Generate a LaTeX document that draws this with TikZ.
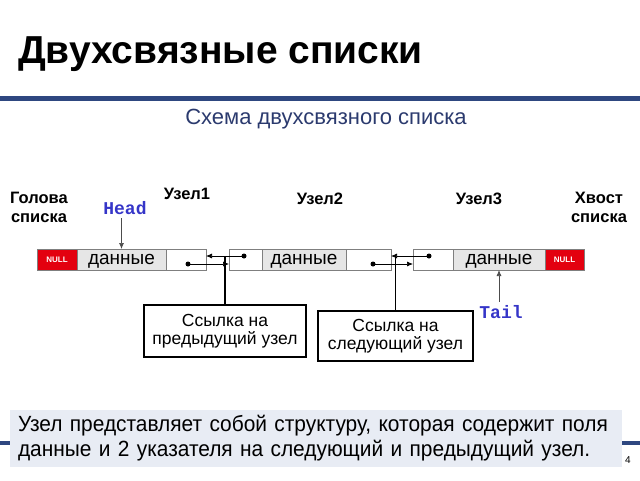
\documentclass[tikz,border=0pt]{standalone}
\usepackage{fontspec}
\setmainfont{Liberation Sans}
\setmonofont{Liberation Mono}
\newfontfamily\narrowfont[FakeStretch=0.95]{Liberation Sans}
\usetikzlibrary{arrows.meta,positioning}

\definecolor{titleblue}{HTML}{2E4780}
\definecolor{subblue}{HTML}{2B3A6E}
\definecolor{notefill}{HTML}{E8ECF4}
\definecolor{nullred}{HTML}{E3000F}
\definecolor{headblue}{HTML}{3535C8}
\definecolor{datagray}{HTML}{E6E6E6}
\definecolor{cellline}{HTML}{7F7F7F}

\newcommand{\fsz}[1]{\fontsize{#1}{#1}\selectfont}

\tikzset{
  cell/.style={draw=cellline, line width=0.8pt, minimum height=21pt, inner sep=0pt, outer sep=0pt, anchor=west},
  datacell/.style={cell, fill=datagray, font=\fsz{19}, text height=10pt, text depth=0pt},
  ptrcell/.style={cell, fill=white},
  nullcell/.style={cell, fill=nullred, text=white, font=\bfseries\fsz{8}},
  dot/.style={circle, fill=black, inner sep=0pt, minimum size=5pt},
  link/.style={-{Latex[length=6pt,width=5pt]}, line width=0.7pt},
  marker/.style={font=\ttfamily\bfseries\fsz{18}, text=headblue},
  callout/.style={draw, line width=1.4pt, fill=white, align=center, font=\fsz{17.5}, inner sep=0pt},
  toplabel/.style={font=\bfseries\fontsize{16.5}{19}\selectfont, align=center, anchor=north}
}

\begin{document}
\begin{tikzpicture}[x=1pt,y=-1pt]
    \useasboundingbox (0,0) rectangle (640,480);
    % title
    \node[anchor=base west, font=\bfseries\fsz{39}, inner sep=0pt] (title) at (18,63) {Двухсвязные списки};
    \draw[titleblue, line width=5pt] (0,98) -- (640,98);
    \node[text=subblue, font=\fsz{22}] (sub) at (326,119) {Схема двухсвязного списка};

    % labels above the list
    \node[toplabel] (headlbl) at (39,189) {Голова\\списка};
    \node[toplabel] (n1lbl) at (187,185) {Узел1};
    \node[toplabel] (n2lbl) at (320,189) {Узел2};
    \node[toplabel] (n3lbl) at (479,189) {Узел3};
    \node[toplabel] (taillbl) at (599,189) {Хвост\\списка};

    % node 1
    \node[nullcell, minimum width=40pt] (null1) at (37,259.5) {NULL};
    \node[datacell, minimum width=89pt, right=0pt of null1] (data1) {данные};
    \node[ptrcell, minimum width=40pt, right=0pt of data1] (ptr1) {};
    % node 2
    \node[ptrcell, minimum width=33pt] (ptr2l) at (229,259.5) {};
    \node[datacell, minimum width=84pt, right=0pt of ptr2l] (data2) {данные};
    \node[ptrcell, minimum width=45pt, right=0pt of data2] (ptr2r) {};
    % node 3
    \node[ptrcell, minimum width=40pt] (ptr3) at (413,259.5) {};
    \node[datacell, minimum width=92pt, right=0pt of ptr3] (data3) {данные};
    \node[nullcell, minimum width=39pt, right=0pt of data3] (null3) {NULL};

    % links
    \node[dot] (d1) at (188,264) {};
    \node[dot] (d2) at (244,256) {};
    \node[dot] (d3) at (373,264) {};
    \node[dot] (d4) at (429,256) {};
    \draw[link] (d1.center) -- (d1 -| ptr2l.west);
    \draw[link] (d2.center) -- (d2 -| ptr1.east);
    \draw[link] (d3.center) -- (d3 -| ptr3.west);
    \draw[link] (d4.center) -- (d4 -| ptr2r.east);

    % head and tail
    \node[marker] (head) at (125,208) {Head};
    \draw[link, cellline!60!black] (data1.north |- head.south) -- (data1.north);
    \node[marker] (tail) at (501,312) {Tail};
    \draw[link, cellline!60!black] (data3.south |- tail.north) -- (data3.south);

    % callouts
    \node[callout, minimum width=162pt, minimum height=52pt] (prev) at (225,331) {Ссылка на\\[1pt]предыдущий узел};
    \node[callout, minimum width=155pt, minimum height=50pt] (next) at (395.5,336) {Ссылка на\\[1pt]следующий узел};
    \draw[line width=1.4pt] (prev.north) -- (prev.north |- d2);
    \draw[line width=1.4pt] (next.north) -- (next.north |- d4);

    % note
    \draw[titleblue, line width=4pt] (0,443) -- (640,443);
    \node[fill=notefill, text width=596pt, inner xsep=8pt, minimum height=57pt, align=left, font=\narrowfont\fontsize{22}{25}\selectfont] (note) at (316,438.5)
      {Узел представляет собой структуру, которая содержит поля данные и 2 указателя на следующий и предыдущий узел.};
    \node[font=\fsz{10}] (page) at (628,460) {4};
\end{tikzpicture}
\end{document}
